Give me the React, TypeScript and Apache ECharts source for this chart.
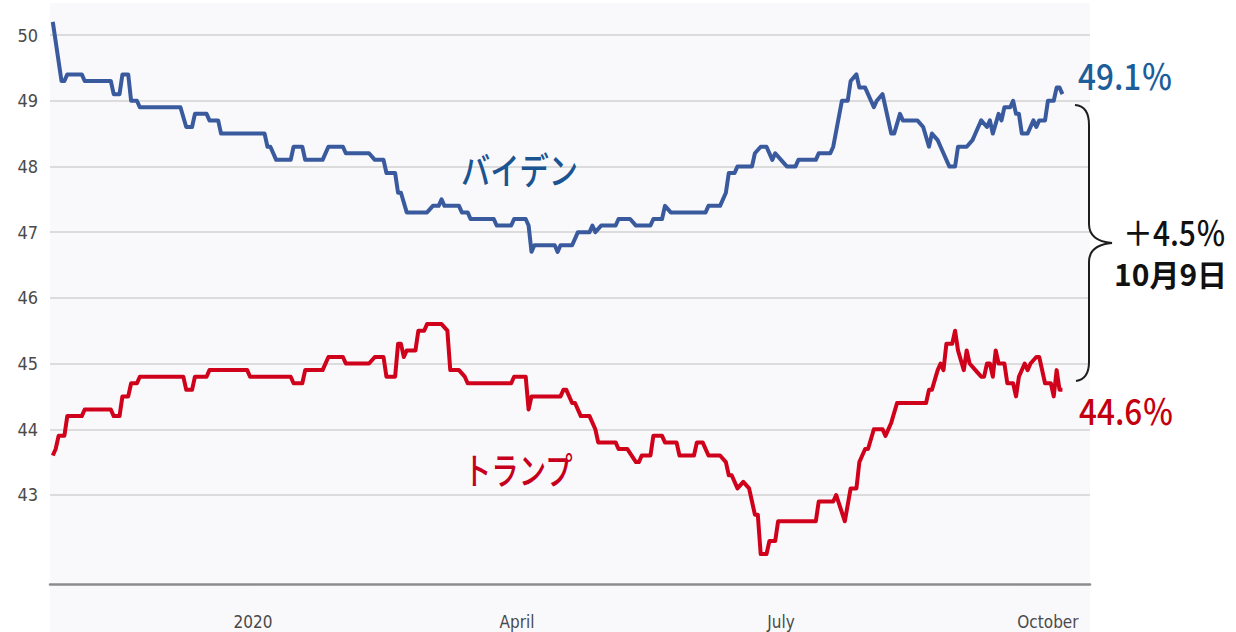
import React, { useEffect, useRef } from 'react';
import * as echarts from 'echarts';

// Days counted from 2020-01-01 (negative = late 2019)
const bidenDays = [-69, -66, -65, -64, -59, -58, -49, -48, -46, -45, -43, -42, -40, -39, -25, -23, -21, -20, -16, -15, -12, -11, 4, 5, 6, 8, 13, 14, 17, 18, 24, 26, 31, 32, 40, 42, 45, 46, 49, 50, 51, 53, 60, 62, 64, 65, 66, 71, 72, 74, 75, 83, 84, 89, 90, 94, 95, 96, 97, 104, 105, 106, 110, 112, 116, 117, 118, 120, 125, 126, 130, 132, 137, 138, 141, 142, 144, 156, 157, 161, 163, 164, 166, 167, 172, 173, 175, 177, 179, 180, 182, 184, 187, 188, 194, 195, 199, 200, 203, 205, 206, 208, 209, 211, 214, 215, 217, 218, 220, 221, 223, 224, 229, 231, 233, 234, 236, 237, 240, 242, 243, 246, 248, 249, 251, 253, 254, 255, 257, 258, 259, 261, 262, 263, 264, 265, 267, 269, 270, 271, 273, 274, 276, 277, 278, 279];
const bidenValues = [50.2, 49.3, 49.3, 49.4, 49.4, 49.3, 49.3, 49.1, 49.1, 49.4, 49.4, 49.0, 49.0, 48.9, 48.9, 48.6, 48.6, 48.8, 48.8, 48.7, 48.7, 48.5, 48.5, 48.3, 48.3, 48.1, 48.1, 48.3, 48.3, 48.1, 48.1, 48.3, 48.3, 48.2, 48.2, 48.1, 48.1, 47.9, 47.9, 47.6, 47.6, 47.3, 47.3, 47.4, 47.4, 47.5, 47.4, 47.4, 47.3, 47.3, 47.2, 47.2, 47.1, 47.1, 47.2, 47.2, 47.1, 46.7, 46.8, 46.8, 46.7, 46.8, 46.8, 47.0, 47.0, 47.1, 47.0, 47.1, 47.1, 47.2, 47.2, 47.1, 47.1, 47.2, 47.2, 47.4, 47.3, 47.3, 47.4, 47.4, 47.6, 47.9, 47.9, 48.0, 48.0, 48.2, 48.3, 48.3, 48.1, 48.2, 48.1, 48.0, 48.0, 48.1, 48.1, 48.2, 48.2, 48.3, 49.0, 49.0, 49.3, 49.4, 49.2, 49.2, 48.9, 49.0, 49.1, 48.9, 48.5, 48.5, 48.8, 48.7, 48.7, 48.6, 48.3, 48.5, 48.4, 48.3, 48.0, 48.0, 48.3, 48.3, 48.4, 48.5, 48.7, 48.6, 48.7, 48.5, 48.8, 48.7, 48.9, 48.9, 49.0, 48.8, 48.8, 48.5, 48.5, 48.7, 48.6, 48.7, 48.7, 49.0, 49.0, 49.2, 49.2, 49.1];

const trumpDays = [-69, -68, -67, -65, -64, -59, -58, -49, -48, -46, -45, -43, -42, -40, -39, -24, -23, -21, -20, -16, -15, -2, -1, 13, 14, 17, 18, 24, 26, 31, 32, 40, 42, 45, 46, 49, 50, 51, 52, 53, 56, 57, 59, 60, 65, 67, 68, 71, 73, 74, 89, 90, 94, 95, 96, 106, 107, 108, 110, 111, 113, 116, 118, 119, 125, 126, 129, 132, 133, 134, 137, 138, 141, 142, 146, 147, 152, 153, 155, 157, 161, 163, 164, 165, 167, 169, 171, 172, 173, 174, 175, 177, 178, 180, 181, 194, 195, 200, 201, 204, 206, 208, 209, 210, 211, 212, 214, 217, 218, 220, 222, 232, 233, 234, 236, 237, 238, 239, 241, 242, 243, 245, 246, 247, 249, 251, 252, 253, 254, 255, 256, 257, 259, 260, 262, 263, 264, 266, 267, 268, 270, 271, 273, 275, 276, 277, 278, 279];
const trumpValues = [43.6, 43.7, 43.9, 43.9, 44.2, 44.2, 44.3, 44.3, 44.2, 44.2, 44.5, 44.5, 44.7, 44.7, 44.8, 44.8, 44.6, 44.6, 44.8, 44.8, 44.9, 44.9, 44.8, 44.8, 44.7, 44.7, 44.9, 44.9, 45.1, 45.1, 45.0, 45.0, 45.1, 45.1, 44.8, 44.8, 45.3, 45.3, 45.1, 45.2, 45.2, 45.5, 45.5, 45.6, 45.6, 45.5, 44.9, 44.9, 44.8, 44.7, 44.7, 44.8, 44.8, 44.3, 44.5, 44.5, 44.6, 44.6, 44.4, 44.4, 44.2, 44.2, 44.0, 43.8, 43.8, 43.7, 43.7, 43.5, 43.5, 43.6, 43.6, 43.9, 43.9, 43.8, 43.8, 43.6, 43.6, 43.8, 43.8, 43.6, 43.6, 43.5, 43.3, 43.3, 43.1, 43.2, 43.1, 42.9, 42.7, 42.7, 42.1, 42.1, 42.3, 42.3, 42.6, 42.6, 42.9, 42.9, 43.0, 42.6, 43.1, 43.1, 43.5, 43.6, 43.7, 43.7, 44.0, 44.0, 43.9, 44.1, 44.4, 44.4, 44.6, 44.6, 44.9, 45.0, 44.9, 45.3, 45.3, 45.5, 45.2, 44.9, 45.2, 45.0, 44.9, 44.8, 44.8, 45.0, 45.0, 44.8, 45.2, 45.0, 45.0, 44.7, 44.7, 44.5, 44.8, 45.0, 44.9, 45.0, 45.1, 45.1, 44.7, 44.7, 44.5, 44.9, 44.6, 44.6];

const yTickValues = [43, 44, 45, 46, 47, 48, 49, 50];
const monthLabels: Record<number, string> = { 0: '2020', 3: 'April', 6: 'July', 9: 'October' };

const bidenLabel = 'バイデン';
const trumpLabel = 'トランプ';
const bidenLatest = '49.1％';
const trumpLatest = '44.6％';
const leadText = '＋4.5％';
const dateText = '10月9日';

const DAY = 86400000;
const base = new Date(2020, 0, 1).getTime();
const dayToTime = (d: number) => new Date(2020, 0, 1 + d).getTime();

const bracePath =
  'M1075,105 Q1089,106 1089,125 L1089,224 Q1089,241 1112,243 Q1089,245 1089,262 L1089,362 Q1089,379 1076,381';
echarts.graphic.registerShape('brace', echarts.graphic.extendPath(bracePath, {}));

const axisFont = "'Liberation Sans Narrow', 'DejaVu Sans Condensed', 'Roboto', sans-serif";
const jpFont = "'Noto Sans CJK JP', sans-serif";

export default function App() {
  const ref = useRef<HTMLDivElement>(null);
  useEffect(() => {
    const chart = echarts.init(ref.current!, null, { renderer: 'svg' });
    const biden = bidenDays.map((d, i) => [dayToTime(d), bidenValues[i]]);
    const trump = trumpDays.map((d, i) => [dayToTime(d), trumpValues[i]]);
    const option: any = {
      animation: false,
      backgroundColor: '#ffffff',
      grid: { left: 50, right: 146, top: 3, bottom: 48 },
      xAxis: {
        type: 'time',
        min: base - 69.96 * DAY,
        max: base + 288.5 * DAY,
        splitNumber: 12,
        axisLine: { show: true, lineStyle: { color: '#8c8c8c', width: 2.5 } },
        axisTick: { show: false },
        splitLine: { show: false },
        axisLabel: {
          color: '#4a4a4a',
          fontSize: 17,
          fontFamily: axisFont,
          margin: 29,
          hideOverlap: false,
          formatter: (v: number) => {
            const dt = new Date(v);
            if (dt.getDate() !== 1 || dt.getHours() !== 0) return '';
            return monthLabels[dt.getMonth()] ?? '';
          },
        },
      },
      yAxis: {
        type: 'value',
        min: 41.645,
        max: 50.487,
        splitNumber: 9,
        axisLine: { show: false },
        axisTick: { show: false },
        splitLine: { show: false },
        axisLabel: {
          color: '#4a4a4a',
          fontSize: 18,
          fontFamily: axisFont,
          margin: 12,
          formatter: (v: number) => (yTickValues.includes(Math.round(v * 1000) / 1000) ? String(v) : ''),
        },
      },
      series: [
        {
          name: 'Biden',
          type: 'line',
          data: biden,
          showSymbol: false,
          symbol: 'none',
          z: 3,
          lineStyle: { color: '#3a5a9e', width: 4, join: 'round' },
          markLine: {
            silent: true,
            z: 1,
            symbol: ['none', 'none'],
            label: { show: false },
            lineStyle: { color: '#dcdcdc', width: 2, type: 'solid' },
            data: yTickValues.map((v) => ({ yAxis: v })),
          },
        },
        {
          name: 'Trump',
          type: 'line',
          data: trump,
          showSymbol: false,
          symbol: 'none',
          z: 3,
          lineStyle: { color: '#d0021b', width: 4, join: 'round' },
        },
      ],
      graphic: [
        { type: 'rect', z: -100, silent: true, shape: { x: 50, y: 3, width: 1040, height: 629 }, style: { fill: '#f9f9fc' } },
        { type: 'brace', z: 10, x: 0, y: 0, style: { stroke: '#1e1e1e', lineWidth: 2, fill: 'none' } },
        { type: 'text', z: 10, x: 461, y: 169, scaleX: 0.79, style: { text: bidenLabel, fill: '#1b5491', font: `500 37px ${jpFont}`, align: 'left', verticalAlign: 'middle' } },
        { type: 'text', z: 10, x: 464, y: 469, scaleX: 0.74, style: { text: trumpLabel, fill: '#c6001c', font: `500 37px ${jpFont}`, align: 'left', verticalAlign: 'middle' } },
        { type: 'text', z: 10, x: 1078, y: 75, scaleX: 0.9, style: { text: bidenLatest, fill: '#1d5e9a', font: `500 35px ${jpFont}`, align: 'left', verticalAlign: 'middle' } },
        { type: 'text', z: 10, x: 1079, y: 410, scaleX: 0.9, style: { text: trumpLatest, fill: '#c4000f', font: `500 35px ${jpFont}`, align: 'left', verticalAlign: 'middle' } },
        { type: 'text', z: 10, x: 1123, y: 231, scaleX: 0.88, style: { text: leadText, fill: '#111111', font: `500 34px ${jpFont}`, align: 'left', verticalAlign: 'middle' } },
        { type: 'text', z: 10, x: 1114, y: 273, scaleX: 1.0, style: { text: dateText, fill: '#111111', font: `bold 30px ${jpFont}`, align: 'left', verticalAlign: 'middle' } },
      ],
    };
    chart.setOption(option);
    return () => chart.dispose();
  }, []);
  return (
    <div
      ref={ref}
      style={{ position: 'fixed', left: 0, top: 0, width: 1236, height: 632, background: '#ffffff' }}
    />
  );
}
